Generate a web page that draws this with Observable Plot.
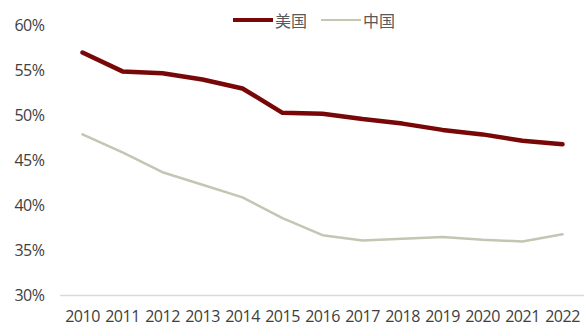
<!DOCTYPE html>
<html><head><meta charset="utf-8">
<script src="https://cdn.jsdelivr.net/npm/d3@7"></script>
<script src="https://cdn.jsdelivr.net/npm/@observablehq/plot@0.6"></script>
<style>
body{margin:0;background:#fff;}
#wrap{position:relative;width:584px;height:326px;font-family:"Open Sans",sans-serif;}
#legend{position:absolute;top:8px;left:233px;display:flex;align-items:center;font-family:"Noto Sans CJK SC",sans-serif;font-size:16px;color:#595959;}
.sw{display:inline-block;width:40px;margin-right:2px;}
</style></head>
<body><div id="wrap"><div id="legend"></div></div>
<script>
const years = [2010,2011,2012,2013,2014,2015,2016,2017,2018,2019,2020,2021,2022];
const usValues = [57.0,54.9,54.7,54.0,53.0,50.3,50.2,49.6,49.1,48.4,47.9,47.2,46.8];
const cnValues = [47.9,45.9,43.7,42.3,40.9,38.6,36.7,36.1,36.3,36.5,36.2,36.0,36.8];
const seriesNames = ["美国","中国"];
const seriesColors = ["#780808","#c3c6b2"];
const yTicks = [30,35,40,45,50,55,60];

const us = years.map((y,i)=>({year:String(y), v:usValues[i]}));
const cn = years.map((y,i)=>({year:String(y), v:cnValues[i]}));

const chart = Plot.plot({
  width:584, height:326,
  marginLeft:60, marginRight:0, marginTop:25, marginBottom:31,
  style:{fontFamily:"Open Sans, sans-serif", fontSize:"16px", color:"#404040", background:"#fff", letterSpacing:"-0.5px"},
  x:{type:"point", domain:years.map(String), padding:0.5, label:null, tickSize:0, tickPadding:15},
  y:{domain:[30,60], ticks:yTicks, tickFormat:d=>d+"%", label:null, tickSize:0, tickPadding:16},
  marks:[
    Plot.ruleY([30],{stroke:"#d9d9d9", strokeWidth:1.5}),
    Plot.line(cn,{x:"year", y:"v", stroke:seriesColors[1], strokeWidth:2.5}),
    Plot.line(us,{x:"year", y:"v", stroke:seriesColors[0], strokeWidth:4.5})
  ]
});
chart.querySelectorAll("g[aria-label='x-axis tick label'] text, g[aria-label='y-axis tick label'] text").forEach(t=>t.setAttribute("fill","#404040"));
document.getElementById("wrap").prepend(chart);
const lg = document.getElementById("legend");
seriesNames.forEach((n,i)=>{
  const s=document.createElement("span"); s.className="sw";
  s.style.borderTop=(i===0?4.5:2.5)+"px solid "+seriesColors[i];
  const t=document.createElement("span"); t.textContent=n; t.style.marginRight="14px";
  lg.append(s,t);
});
</script></body></html>
